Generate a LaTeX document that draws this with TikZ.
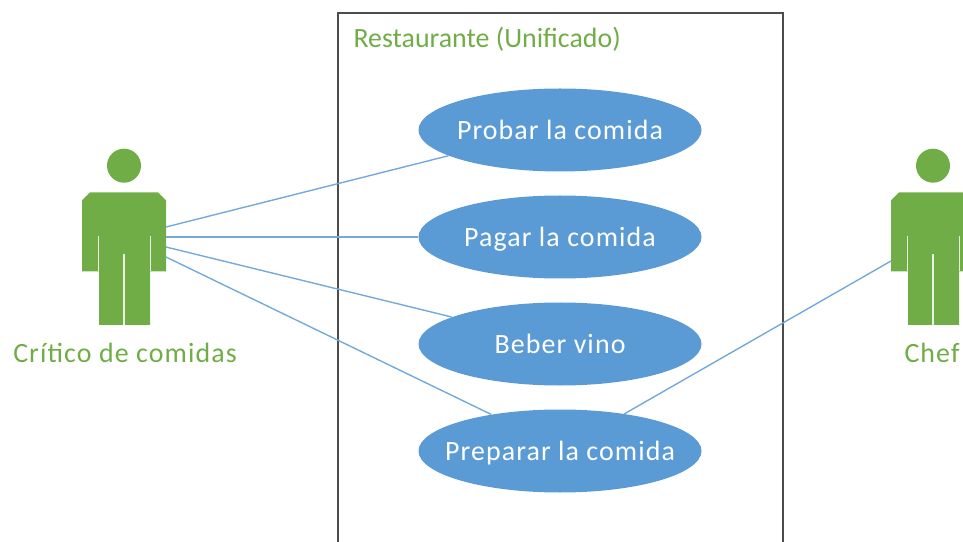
\documentclass[tikz,border=0pt]{standalone}
\usepackage{fontspec}
\setmainfont{Carlito}
\newfontfamily\spacedfont[LetterSpace=4]{Carlito}
\usepackage{tikz}
\usetikzlibrary{shapes.geometric}
\definecolor{actorgreen}{HTML}{70AD47}
\definecolor{caseblue}{HTML}{5B9BD5}
\newcommand{\casetext}[1]{\raisebox{-9.5bp}[0pt][0pt]{\makebox[0pt]{#1}}}
\tikzset{%
    usecase/.style={ellipse,fill=caseblue,minimum width=283bp,minimum height=83bp,inner sep=0pt,text=white,font=\spacedfont\fontsize{28}{30}\selectfont},
    actorlabel/.style={text=actorgreen,font=\spacedfont\fontsize{28}{30}\selectfont},
    assoc/.style={caseblue!85,line width=1.4bp},
    slit/.style={white!85!actorgreen,line width=1.6bp}
}
\begin{document}
\begin{tikzpicture}[x=1bp,y=-1bp]
    \useasboundingbox (0,0) rectangle (963,542);
    \draw[line width=1.6bp,black!70] (338,542)--(338,13)--(783,13)--(783,542);
    \node[text=actorgreen,font=\fontsize{28}{30}\selectfont,anchor=west] (system) at (350,39) {Restaurante (Unificado)};
    \node[usecase] (probar) at (560,130) {\casetext{Probar la comida}};
    \node[usecase] (pagar) at (560,237) {\casetext{Pagar la comida}};
    \node[usecase] (beber) at (560,344) {\casetext{Beber vino}};
    \node[usecase] (preparar) at (560,451) {\casetext{Preparar la comida}};
    % actors
    \foreach \name/\cx in {critico/124,chef/933} {
        \begin{scope}[shift={(\cx,0)}]
            \fill[actorgreen] (0,165.7) circle (17);
            \fill[actorgreen] (-34,192.3)--(34,192.3)--(42,200.5)--(42,271.5)--(26,271.5)--(26,325)--(-25,325)--(-25,271.5)--(-42,271.5)--(-42,200.5)--cycle;
            \draw[slit] (0,254)--(0,325);
            \draw[slit] (-25.5,236)--(-25.5,271.5);
            \draw[slit] (26.5,236)--(26.5,271.5);
        \end{scope}
    }
    \node[actorlabel] (criticolabel) at (125,353) {Crítico de comidas};
    \node[actorlabel,anchor=west] (cheflabel) at (901,353) {Chef};
    \coordinate (c1) at (166,227);
    \coordinate (c2) at (166,237);
    \coordinate (c3) at (166,247);
    \coordinate (c4) at (166,257);
    \coordinate (f1) at (891,261);
    \draw[assoc] (c1)--(probar.193.8);
    \draw[assoc] (c2)--(pagar.west);
    \draw[assoc] (c3)--(beber.166);
    \draw[assoc] (c4)--(preparar.152.5);
    \draw[assoc] (f1)--(preparar.30.2);
\end{tikzpicture}
\end{document}
